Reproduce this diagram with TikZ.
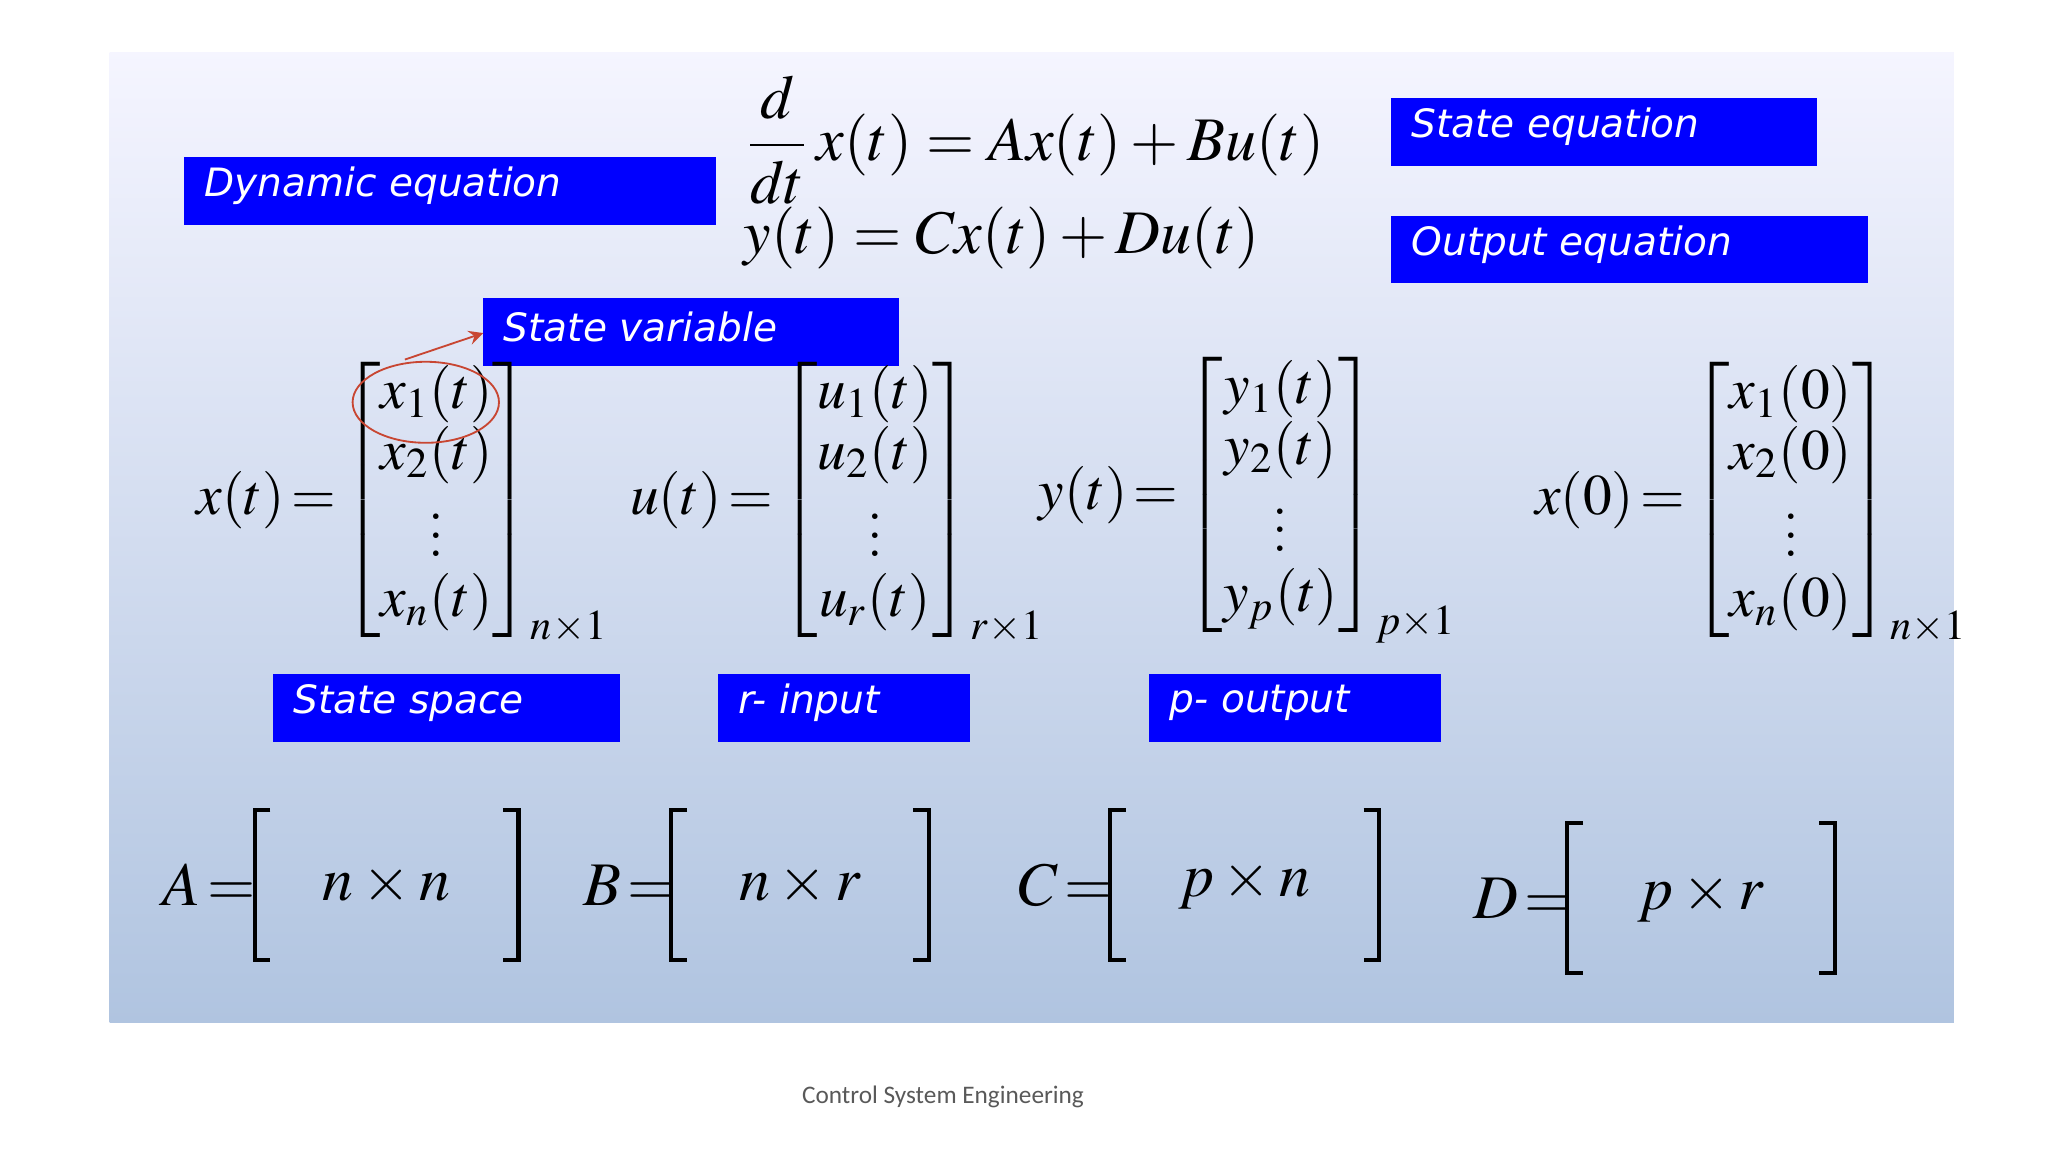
\documentclass[tikz,border=0pt]{standalone}
\usepackage{amsmath}
\usepackage{mathptmx}
\usepackage{fontspec}
\usetikzlibrary{shapes.geometric}
\newfontfamily\boxfont{DejaVu Sans}
\newfontfamily\footfont{Carlito}
\definecolor{redc}{RGB}{200,70,50}
\definecolor{bgbot}{RGB}{176,196,224}
\begin{document}
\begin{tikzpicture}[x=0.01cm,y=-0.01cm,
  boxtxt/.style={anchor=west, inner sep=0, text=white, font=\boxfont\itshape\fontsize{8.5}{10}\selectfont},
  eq/.style={font=\fontsize{13.5}{15}\selectfont},
  meq/.style={anchor=west, font=\fontsize{12.5}{14}\selectfont},
  brk/.style={line width=0.9pt}]
\useasboundingbox (0,0) rectangle (1568,882);
\shade[top color=white!96!blue, bottom color=bgbot] (84,40) rectangle (1496,783);
% blue boxes
\foreach \n/\a/\b/\c/\d/\t in {dyn/141/120/548/172/Dynamic equation, st/1065/75/1391/127/State equation, out/1065/165/1430/217/Output equation, sv/370/228/688/280/State variable, ss/209/516/475/568/State space, ri/550/516/743/568/r- input, po/880/516/1103/568/p- output}{
  \fill[blue] (\a,\b) rectangle (\c,\d);
  \node[boxtxt] (\n) at (\a+15,\b+22) {\t};
}
% equations
\node[eq] (e1) at (792,107) {$\dfrac{d}{dt}\,x(t)=Ax(t)+Bu(t)$};
\node[eq] (e2) at (767,182) {$y(t)=Cx(t)+Du(t)$};
% matrices
\node[meq] (mx) at (138,385) {$x(t)\!=\!\renewcommand{\arraystretch}{0.9}\begin{bmatrix}x_1(t)\\x_2(t)\\\vdots\\x_n(t)\end{bmatrix}_{n\times1}$};
\node[meq] (mu) at (470,385) {$u(t)\!=\!\renewcommand{\arraystretch}{0.9}\begin{bmatrix}u_1(t)\\u_2(t)\\\vdots\\u_r(t)\end{bmatrix}_{r\times1}$};
\node[meq] (my) at (783,383) {$y(t)\!=\!\renewcommand{\arraystretch}{0.9}\begin{bmatrix}y_1(t)\\y_2(t)\\\vdots\\y_p(t)\end{bmatrix}_{p\times1}$};
\node[meq] (m0) at (1163,385) {$x(0)\!=\!\renewcommand{\arraystretch}{0.9}\begin{bmatrix}x_1(0)\\x_2(0)\\\vdots\\x_n(0)\end{bmatrix}_{n\times1}$};
% ellipse and arrow
\node[draw=redc, ellipse, minimum width=1.12cm, minimum height=0.62cm, inner sep=0] (el) at (326,308) {};
\coordinate (svc) at (370,255);
\draw[-stealth, redc] (el.north) ++(-16,-1) -- (svc);
% bottom row
\foreach \n/\lx/\bl/\br/\t/\ya/\yb in {A/160/195/397/n\times n/620/735, B/482/514/711/n\times r/620/735, C/816/850/1056/p\times n/620/735, D/1166/1200/1405/p\times r/630/745}{
  \node[eq] (l\n) at (\lx,{(\ya+\yb)/2}) {$\n\!=$};
  \draw[brk] (\bl+12,\ya) -- (\bl,\ya) -- (\bl,\yb) -- (\bl+12,\yb);
  \draw[brk] (\br-12,\ya) -- (\br,\ya) -- (\br,\yb) -- (\br-12,\yb);
  \node[eq] (c\n) at ({(\bl+\br)/2},{(\ya+\yb)/2}) {$\t$};
}
\node[font=\footfont\fontsize{5.5}{7}\selectfont, text=black!65] (foot) at (722,840) {Control System Engineering};
\end{tikzpicture}
\end{document}
